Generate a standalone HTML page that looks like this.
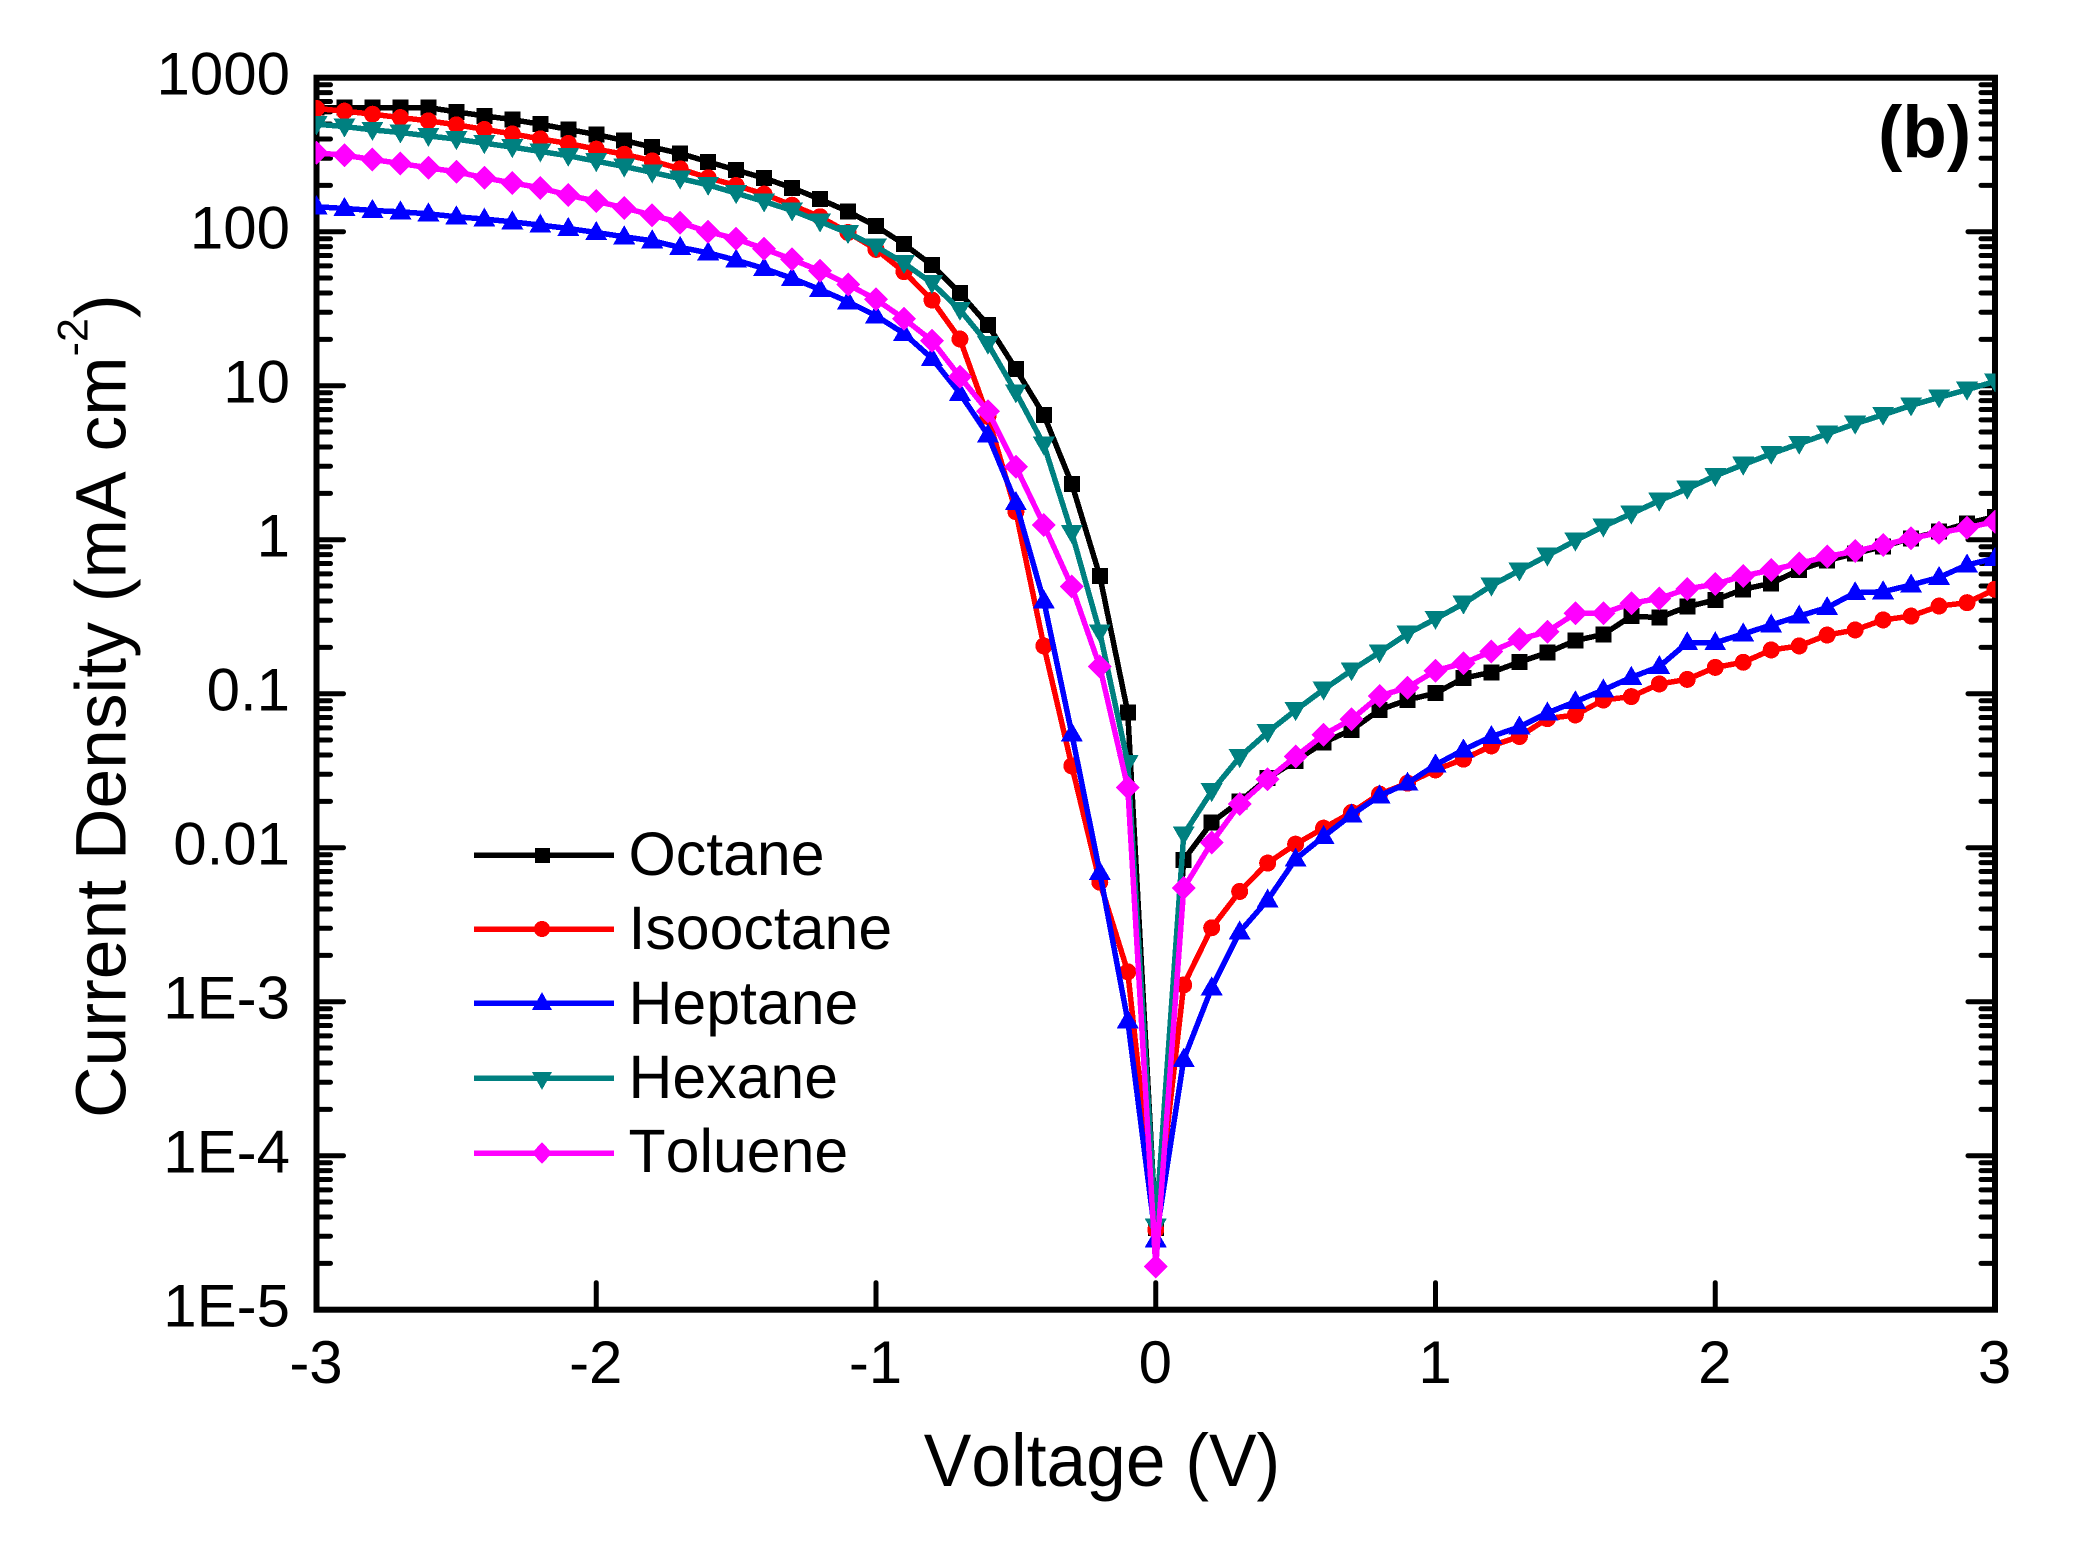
<!DOCTYPE html>
<html lang="en">
<head>
<meta charset="utf-8">
<title>Current density vs voltage</title>
<style>
  html, body { margin: 0; padding: 0; background: #fff; }
  svg { display: block; }
  text { font-family: "Liberation Sans", Arial, sans-serif; fill: #000; font-kerning: none; }
</style>
</head>
<body>
<svg id="chart" xmlns="http://www.w3.org/2000/svg" width="2078" height="1554" viewBox="0 0 2078 1554">
  <rect x="0" y="0" width="2078" height="1554" fill="#fff"/>
  <defs>
    <clipPath id="plot-clip"><rect x="315.5" y="70" width="1680" height="1240"/></clipPath>
  </defs>
  <g id="axes"></g>
  <g id="series" clip-path="url(#plot-clip)"></g>

  <text transform="translate(125.5 1118) rotate(-90)" font-size="71.4">Current Density (mA cm<tspan font-size="43" dy="-38">-2</tspan><tspan dy="38">)</tspan></text>
  <text transform="translate(1102 1486) scale(1 1.04)" font-size="71.3" text-anchor="middle">Voltage (V)</text>
  <text x="1878" y="157" font-size="73" font-weight="bold">(b)</text>

  <g shape-rendering="crispEdges">
    <g>
      <line x1="474" y1="855" x2="614" y2="855" stroke="#000" stroke-width="5.5"/>
      <rect x="535" y="848" width="15" height="15" fill="#000"/>
      <text x="628.5" y="875" font-size="60.8">Octane</text>
    </g>
    <g>
      <line x1="474" y1="929" x2="614" y2="929" stroke="#f00" stroke-width="5.5"/>
      <circle cx="542" cy="929" r="8" fill="#f00"/>
      <text x="628.5" y="949" font-size="60.8">Isooctane</text>
    </g>
    <g>
      <line x1="474" y1="1003" x2="614" y2="1003" stroke="#00f" stroke-width="5.5"/>
      <polygon points="542,992 552,1010 532,1010" fill="#00f"/>
      <text x="628.5" y="1024" font-size="60.8">Heptane</text>
    </g>
    <g>
      <line x1="474" y1="1078" x2="614" y2="1078" stroke="#008080" stroke-width="5.5"/>
      <polygon points="532,1072 552,1072 542,1090" fill="#008080"/>
      <text x="628.5" y="1098" font-size="60.8">Hexane</text>
    </g>
    <g>
      <line x1="474" y1="1153" x2="614" y2="1153" stroke="#f0f" stroke-width="5.5"/>
      <polygon points="542,1142 552,1153 542,1164 532,1153" fill="#f0f"/>
      <text x="628.5" y="1172" font-size="60.8">Toluene</text>
    </g>
  </g>
</svg>

<script>
const voltages = [
  -3.0,-2.9,-2.8,-2.7,-2.6,-2.5,-2.4,-2.3,-2.2,-2.1,
  -2.0,-1.9,-1.8,-1.7,-1.6,-1.5,-1.4,-1.3,-1.2,-1.1,
  -1.0,-0.9,-0.8,-0.7,-0.6,-0.5,-0.4,-0.3,-0.2,-0.1,
  0,
  0.1,0.2,0.3,0.4,0.5,0.6,0.7,0.8,0.9,1.0,
  1.1,1.2,1.3,1.4,1.5,1.6,1.7,1.8,1.9,2.0,
  2.1,2.2,2.3,2.4,2.5,2.6,2.7,2.8,2.9,3.0
];

// log10 of current density (mA cm^-2)
const octaneLogJ = [
  2.806,2.806,2.806,2.806,2.806,2.778,2.752,2.728,2.698,2.664,
  2.631,2.592,2.549,2.508,2.454,2.400,2.348,2.285,2.211,2.131,
  2.036,1.919,1.783,1.601,1.394,1.108,0.810,0.362,-0.235,-1.122,
  -4.47,
  -2.079,-1.836,-1.700,-1.549,-1.436,-1.317,-1.235,-1.105,-1.040,-0.997,
  -0.899,-0.861,-0.795,-0.733,-0.655,-0.615,-0.496,-0.506,-0.435,-0.392,
  -0.322,-0.283,-0.197,-0.136,-0.089,-0.045,0.009,0.052,0.106,0.149
];
const isooctaneLogJ = [
  2.800,2.783,2.763,2.741,2.720,2.694,2.664,2.635,2.603,2.573,
  2.536,2.503,2.460,2.408,2.350,2.300,2.244,2.172,2.097,1.995,
  1.885,1.740,1.556,1.303,0.800,0.182,-0.690,-1.469,-2.224,-2.806,
  -4.48,
  -2.891,-2.520,-2.284,-2.100,-1.977,-1.873,-1.771,-1.652,-1.581,-1.495,
  -1.425,-1.339,-1.278,-1.162,-1.138,-1.041,-1.019,-0.937,-0.907,-0.829,
  -0.796,-0.716,-0.690,-0.619,-0.586,-0.521,-0.496,-0.431,-0.409,-0.322
];
const heptaneLogJ = [
  2.162,2.151,2.138,2.129,2.116,2.097,2.082,2.064,2.043,2.021,
  1.995,1.967,1.941,1.898,1.863,1.815,1.761,1.697,1.625,1.545,
  1.454,1.339,1.177,0.950,0.680,0.241,-0.398,-1.261,-2.161,-3.124,
  -4.546,
  -3.374,-2.910,-2.547,-2.340,-2.074,-1.927,-1.787,-1.663,-1.581,-1.462,
  -1.365,-1.278,-1.216,-1.125,-1.052,-0.976,-0.894,-0.824,-0.669,-0.669,
  -0.612,-0.554,-0.496,-0.441,-0.344,-0.338,-0.294,-0.245,-0.164,-0.121
];
const hexaneLogJ = [
  2.698,2.683,2.661,2.644,2.622,2.601,2.575,2.549,2.521,2.493,
  2.458,2.423,2.385,2.345,2.304,2.250,2.196,2.138,2.066,1.991,
  1.904,1.796,1.666,1.493,1.272,0.957,0.617,0.044,-0.601,-1.449,
  -4.46,
  -1.914,-1.633,-1.412,-1.250,-1.107,-0.973,-0.848,-0.731,-0.610,-0.514,
  -0.415,-0.298,-0.200,-0.103,-0.006,0.086,0.169,0.253,0.331,0.415,
  0.487,0.558,0.623,0.688,0.753,0.811,0.872,0.924,0.974,1.028
];
const tolueneLogJ = [
  2.512,2.497,2.469,2.443,2.415,2.389,2.350,2.317,2.285,2.237,
  2.198,2.155,2.107,2.058,2.000,1.954,1.889,1.820,1.746,1.657,
  1.560,1.435,1.292,1.058,0.834,0.474,0.096,-0.305,-0.824,-1.609,
  -4.719,
  -2.263,-1.966,-1.717,-1.555,-1.408,-1.267,-1.166,-1.015,-0.960,-0.850,
  -0.802,-0.726,-0.647,-0.597,-0.478,-0.478,-0.413,-0.381,-0.320,-0.288,
  -0.236,-0.197,-0.154,-0.110,-0.074,-0.035,0.009,0.045,0.078,0.117
];

const xTickValues = [-3,-2,-1,0,1,2,3];
const xTickLabels = ['-3','-2','-1','0','1','2','3'];
const yTickExponents = [-5,-4,-3,-2,-1,0,1,2,3];
const yTickLabels = ['1E-5','1E-4','1E-3','0.01','0.1','1','10','100','1000'];
const yMinorMantissas = [2,3,4,5,6,7,8,9];

const seriesNames = ['octane','isooctane','heptane','hexane','toluene'];
const seriesValues = [octaneLogJ, isooctaneLogJ, heptaneLogJ, hexaneLogJ, tolueneLogJ];
const seriesColors = ['#000000','#ff0000','#0000ff','#008080','#ff00ff'];
const seriesShapes = ['square','circle','up','down','diamond'];

const SVG_NS = 'http://www.w3.org/2000/svg';
const plot = { left: 316.5, right: 1995, top: 77.7, bottom: 1309.7 };
const xMin = -3, xMax = 3, logMin = -5, logMax = 3;

function xScale(v) {
  return plot.left + (v - xMin) / (xMax - xMin) * (plot.right - plot.left);
}
function yScale(logJ) {
  return plot.bottom - (logJ - logMin) / (logMax - logMin) * (plot.bottom - plot.top);
}
function make(tag, parent) {
  const el = document.createElementNS(SVG_NS, tag);
  parent.appendChild(el);
  return el;
}
function setLine(el, x1, y1, x2, y2) {
  el.setAttribute('x1', x1);
  el.setAttribute('y1', y1);
  el.setAttribute('x2', x2);
  el.setAttribute('y2', y2);
  el.setAttribute('stroke', '#000');
  el.setAttribute('stroke-width', '5');
  el.setAttribute('stroke-linecap', 'round');
}

const axes = document.getElementById('axes');

const frame = make('rect', axes);


frame.setAttribute('x', plot.left);
frame.setAttribute('y', plot.top);
frame.setAttribute('width', plot.right - plot.left);
frame.setAttribute('height', plot.bottom - plot.top);
frame.setAttribute('fill', 'none');
frame.setAttribute('stroke', '#000');
frame.setAttribute('stroke-width', '6');

xTickValues.forEach(function (v, i) {
  const px = xScale(v);
  const tick = make('line', axes);
  
  
  setLine(tick, px, plot.bottom, px, plot.bottom - 27);
  const label = make('text', axes);
  
  
  label.setAttribute('x', px - 0.5);
  label.setAttribute('y', 1383);
  label.setAttribute('font-size', '60');
  label.setAttribute('text-anchor', 'middle');
  label.textContent = xTickLabels[i];
});

yTickExponents.forEach(function (e, i) {
  const py = yScale(e);
  [plot.left, plot.right].forEach(function (ax) {
    const dir = ax === plot.left ? 1 : -1;
    const tick = make('line', axes);
    
    
    setLine(tick, ax, py, ax + dir * 27, py);
    if (e < logMax) {
      yMinorMantissas.forEach(function (m) {
        const my = yScale(e + Math.log10(m));
        const minor = make('line', axes);
        
        
        setLine(minor, ax, my, ax + dir * 14, my);
      });
    }
  });
  const label = make('text', axes);
  
  
  label.setAttribute('x', 290);
  label.setAttribute('y', py + 17);
  label.setAttribute('font-size', '60');
  label.setAttribute('text-anchor', 'end');
  label.textContent = yTickLabels[i];
});

function drawMarker(parent, shape, px, py, color) {
  let el;
  if (shape === 'circle') {
    el = make('circle', parent);
    el.setAttribute('cx', px);
    el.setAttribute('cy', py);
    el.setAttribute('r', 8.5);
  } else if (shape === 'square') {
    el = make('rect', parent);
    el.setAttribute('x', px - 8);
    el.setAttribute('y', py - 8);
    el.setAttribute('width', 16);
    el.setAttribute('height', 16);
  } else {
    el = make('polygon', parent);
    let pts;
    if (shape === 'up') {
      pts = [[px, py - 11.5], [px + 11, py + 7.5], [px - 11, py + 7.5]];
    } else if (shape === 'down') {
      pts = [[px - 11, py - 8], [px + 11, py - 8], [px, py + 11]];
    } else {
      pts = [[px, py - 12], [px + 12, py], [px, py + 12], [px - 12, py]];
    }
    el.setAttribute('points', pts.map(function (p) { return p.join(','); }).join(' '));
  }
  el.setAttribute('fill', color);
  
  
}

const seriesRoot = document.getElementById('series');
seriesRoot.setAttribute('shape-rendering', 'crispEdges');

seriesNames.forEach(function (name, s) {
  const values = seriesValues[s];
  const group = make('g', seriesRoot);
  
  
  const line = make('polyline', group);
  
  
  line.setAttribute('fill', 'none');
  line.setAttribute('stroke', seriesColors[s]);
  line.setAttribute('stroke-width', '5.5');
  line.setAttribute('stroke-linejoin', 'round');
  line.setAttribute('points', voltages.map(function (v, i) {
    return xScale(v).toFixed(2) + ',' + yScale(values[i]).toFixed(2);
  }).join(' '));
  voltages.forEach(function (v, i) {
    drawMarker(group, seriesShapes[s], xScale(v), yScale(values[i]), seriesColors[s]);
  });
});
</script>
</body>
</html>
